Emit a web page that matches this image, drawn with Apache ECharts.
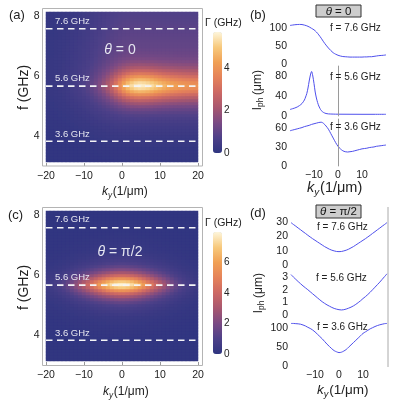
<!DOCTYPE html>
<html>
<head>
<meta charset="utf-8">
<script src="https://cdn.jsdelivr.net/npm/echarts@6/dist/echarts.min.js"></script>
<style>
html, body { margin: 0; padding: 0; background: #fff; }
#chart { width: 397px; height: 400px; }
</style>
</head>
<body>
<div id="chart"></div>
<script>
// ---- data ----
// heatmap cells: 38 ky columns over -20..20 (1/um), 50 f rows of 0.1 GHz
const kyCells = [];
for (let i = 0; i < 38; i++) kyCells.push(+(-20 + (i + 0.5) * 40 / 38).toFixed(2));
const fCells = [];
for (let j = 0; j < 50; j++) fCells.push(+(3.2 + 0.1 * j).toFixed(1));
const ridgeF = 5.7; // row of the bright band

// (a) theta = 0 : sharp band amplitude and broad glow along ky
const ridgeA = [0, 0, 0, 0, 0, 0.02, 0.04, 0.07, 0.1, 0.15,
  0.22, 0.32, 0.45, 0.62, 0.85, 1.15, 1.55, 2.05, 2.6,
  3.15, 3.6, 3.95, 4.15, 4.25, 4.2, 4.1, 3.95, 3.75, 3.55,
  3.35, 3.2, 3.05, 2.95, 2.85, 2.78, 2.72, 2.67, 2.63];
const glowA = [0.15, 0.18, 0.21, 0.24, 0.28, 0.32, 0.37, 0.42, 0.48, 0.55,
  0.62, 0.7, 0.79, 0.88, 0.97, 1.05, 1.12, 1.18, 1.23,
  1.27, 1.29, 1.3, 1.3, 1.3, 1.3, 1.3, 1.3, 1.3, 1.3,
  1.3, 1.3, 1.3, 1.3, 1.3, 1.3, 1.3, 1.3, 1.3];
// relative fall-off across f, per 0.1 GHz away from the band
const narrowA = [1, 0.93, 0.8, 0.64, 0.48, 0.35, 0.24, 0.16, 0.1, 0.06, 0.035, 0.02, 0.01];
const glowUpA = [1, 0.99, 0.98, 0.97, 0.96, 0.94, 0.92, 0.9, 0.88, 0.86, 0.84, 0.82, 0.8,
  0.78, 0.76, 0.74, 0.72, 0.7, 0.68, 0.66, 0.64, 0.62, 0.6, 0.58, 0.56, 0.55];
const glowDownA = [1, 0.97, 0.93, 0.88, 0.83, 0.77, 0.71, 0.65, 0.59, 0.53, 0.47, 0.42, 0.37,
  0.32, 0.28, 0.24, 0.2, 0.17, 0.14, 0.12, 0.1, 0.08, 0.07, 0.06, 0.05, 0.04];

// (c) theta = pi/2
const ridgeC = [0.23, 0.32, 0.44, 0.6, 0.82, 1.1, 1.45, 1.85, 2.3, 2.75,
  3.25, 3.8, 4.35, 4.9, 5.45, 5.95, 6.35, 6.65, 6.8,
  6.8, 6.65, 6.35, 5.95, 5.45, 4.9, 4.35, 3.8, 3.25, 2.75,
  2.3, 1.85, 1.45, 1.1, 0.82, 0.6, 0.44, 0.32, 0.23];
const glowC = [0.22, 0.26, 0.3, 0.34, 0.39, 0.44, 0.49, 0.55, 0.61, 0.67,
  0.73, 0.79, 0.85, 0.91, 0.96, 1.01, 1.05, 1.08, 1.1,
  1.1, 1.08, 1.05, 1.01, 0.96, 0.91, 0.85, 0.79, 0.73, 0.67,
  0.61, 0.55, 0.49, 0.44, 0.39, 0.34, 0.3, 0.26, 0.22];
const narrowC = [1, 0.87, 0.66, 0.46, 0.3, 0.19, 0.11, 0.06, 0.035, 0.02, 0.01];
const glowProfC = [1, 0.97, 0.92, 0.86, 0.79, 0.71, 0.63, 0.55, 0.48, 0.41, 0.35, 0.29, 0.24,
  0.2, 0.16, 0.13, 0.1, 0.08, 0.06, 0.05, 0.04, 0.03, 0.02, 0.02, 0.01, 0.01];

// dashed frequency cuts (GHz, as drawn)
const cutLevels = [7.59, 5.68, 3.84];
const cutNames = ['7.6 GHz', '5.6 GHz', '3.6 GHz'];

// (b), (d) l_ph (um) vs ky
const kyLine = [];
for (let k = -20; k <= 20; k++) kyLine.push(k);
const lphB76 = [106, 107, 108, 108.5, 109, 108.5, 107, 105, 102, 98, 94, 88, 80, 71, 61, 52, 44, 37, 31, 27,
  24, 22, 20.5, 20, 19.5, 19, 19, 19, 19, 19, 19, 19.5, 19.5, 20, 20, 21, 22, 23, 23.5, 24, 25];
const kyB56 = [-20, -19, -18, -17, -16, -15, -14, -13.5, -13, -12.5, -12, -11.5, -11, -10.5, -10,
  -9.5, -9, -8.5, -8, -7.5, -7, -6, -5, -4, -2, 0, 5, 10, 15, 20];
const lphB56 = [13, 14.5, 16, 18, 21, 25, 32, 38, 45, 56, 70, 82, 89, 80, 65,
  48, 36, 27, 20, 15, 11, 7, 5, 4.2, 3.8, 3.6, 3.5, 3.4, 3.4, 3.4];
const lphB36 = [55.5, 56.5, 57.5, 58.5, 59.5, 60.5, 62, 63, 64, 65.5, 66.5, 67.5, 68.5, 69, 67, 63, 58, 51, 44, 37,
  31, 27, 24, 22.5, 22, 22.5, 23, 24, 25, 26, 27, 27.5, 28, 29, 29.5, 30, 31, 31.5, 32, 32.5, 33];
const lphD76 = [29.5, 28.2, 27, 25.7, 24.5, 23.2, 22, 20.7, 19.5, 18.3, 17.2, 16.1, 15, 13.9, 12.8, 11.9, 11, 10.3, 9.8, 9.4,
  9.3, 9.4, 9.8, 10.3, 11, 11.9, 12.8, 13.9, 15, 16.1, 17.2, 18.3, 19.5, 20.7, 22, 23.2, 24.5, 25.7, 27, 28.2, 29.5];
const lphD56 = [3.2, 3.0, 2.82, 2.64, 2.47, 2.3, 2.15, 2.0, 1.84, 1.68, 1.52, 1.36, 1.2, 1.05, 0.92, 0.8, 0.7, 0.6, 0.52, 0.46,
  0.42, 0.4, 0.42, 0.47, 0.54, 0.62, 0.72, 0.84, 0.98, 1.13, 1.3, 1.45, 1.62, 1.8, 2.0, 2.2, 2.4, 2.6, 2.82, 3.04, 3.26];
const lphD36 = [111, 111, 110.5, 110, 109, 107, 104.5, 101, 98, 94, 89, 83, 77, 71, 64, 57, 51, 45, 40, 37,
  35, 36, 39, 43, 49, 55, 61, 67, 73, 79, 85, 89, 93, 97, 100, 103, 105.5, 107.5, 109, 110.5, 111];

// ---- build ----
const ridgeRow = fCells.indexOf(ridgeF);
function buildHeat(ridge, glow, narrow, up, down, base) {
  const out = [];
  kyCells.forEach(function (k, i) {
    fCells.forEach(function (f, j) {
      const d = j - ridgeRow;
      const o = Math.abs(d);
      const prof = d >= 0 ? up : down;
      const n = o < narrow.length ? narrow[o] : 0;
      const g = o < prof.length ? prof[o] : 0;
      out.push([i, j, base + ridge[i] * n + glow[i] * g]);
    });
  });
  return out;
}
const heatA = buildHeat(ridgeA, glowA, narrowA, glowUpA, glowDownA, 0.05);
const heatC = buildHeat(ridgeC, glowC, narrowC, glowProfC, glowProfC, 0.05);
const pairs = (xs, ys) => xs.map((x, i) => [x, ys[i]]);

const FONT = '"Liberation Sans", Arial, sans-serif';
const TXT = '#222';
const cmap = ['#2f3580', '#4d4088', '#7a4a84', '#a8576f', '#cc6864', '#e5825a', '#f0a055', '#f7c97c', '#fdf6dc'];
const minus = v => String(v).replace('-', '\u2212');
const lineBlue = '#4f50ec';

// grids: 0 heatA, 1 valA, 2 heatC, 3 valC, 4-6 b, 7-9 d, 10-11 colorbars
const grids = [
  { left: 46, top: 12, width: 152, height: 150 },
  { left: 46, top: 12, width: 152, height: 150 },
  { left: 46, top: 211, width: 152, height: 150 },
  { left: 46, top: 211, width: 152, height: 150 },
  { left: 290, top: 24, width: 96, height: 40 },
  { left: 290, top: 66, width: 96, height: 50 },
  { left: 290, top: 119, width: 96, height: 47 },
  { left: 291, top: 219, width: 96, height: 46 },
  { left: 291, top: 272, width: 96, height: 43 },
  { left: 291, top: 320, width: 96, height: 46 },
  { left: 213, top: 32, width: 9, height: 121 },
  { left: 213, top: 232, width: 9, height: 122 }
].map(g => Object.assign({ containLabel: false }, g));

const lbl = { fontFamily: FONT, fontSize: 10, color: TXT };
function heatX(gi) { return { type: 'category', gridIndex: gi, data: kyCells, show: false }; }
function heatY(gi) { return { type: 'category', gridIndex: gi, data: fCells, show: false }; }
function valX(gi) {
  return {
    type: 'value', gridIndex: gi, min: -20, max: 20, interval: 10, offset: 4,
    axisLine: { show: false }, splitLine: { show: false },
    axisTick: { show: true, inside: true, length: 3, lineStyle: { color: '#999' } },
    axisLabel: Object.assign({ margin: 5, formatter: minus }, lbl, { fontSize: 10.5 })
  };
}
function valY(gi) {
  return {
    type: 'value', gridIndex: gi, min: 3.15, max: 8.15, offset: 3.3,
    axisLine: { show: false }, splitLine: { show: false },
    axisTick: { show: true, inside: true, length: 3, lineStyle: { color: '#999' }, customValues: [4, 6, 8] },
    axisLabel: Object.assign({ margin: 3, customValues: [4, 6, 8] }, lbl, { fontSize: 10.5 })
  };
}
function lineX(gi, labels) {
  return {
    type: 'value', gridIndex: gi, min: -20, max: 20, interval: 10,
    axisLine: { show: false }, splitLine: { show: false }, axisTick: { show: false },
    axisLabel: Object.assign({ show: labels, margin: 4, formatter: v => (Math.abs(v) === 20 ? '' : minus(v)) }, lbl, { fontSize: 10.5 })
  };
}
function lineY(gi, max, interval, showLine) {
  return {
    type: 'value', gridIndex: gi, min: 0, max: max, interval: interval,
    axisLine: { show: showLine, lineStyle: { color: '#aaa' } }, splitLine: { show: false },
    axisTick: { show: false },
    axisLabel: Object.assign({ margin: 3 }, lbl, { fontSize: 10.5 })
  };
}
function barY(gi, max) {
  return {
    type: 'value', gridIndex: gi, min: 0, max: max, interval: 2, position: 'right',
    axisLine: { show: false }, splitLine: { show: false }, axisTick: { show: false },
    axisLabel: Object.assign({ margin: 2, formatter: v => (v % 2 === 0 && v < 7 ? String(v) : '') }, lbl)
  };
}

const xAxes = [heatX(0), valX(1), heatX(2), valX(3),
  lineX(4, false), lineX(5, false), lineX(6, true),
  lineX(7, false), lineX(8, false), lineX(9, true),
  { type: 'value', gridIndex: 10, show: false }, { type: 'value', gridIndex: 11, show: false }];
const yAxes = [heatY(0), valY(1), heatY(2), valY(3),
  lineY(4, 110, 50, false), lineY(5, 100, 40, true), lineY(6, 74, 30, true),
  lineY(7, 32, 10, false), lineY(8, 3.4, 1, false), lineY(9, 120, 50, false),
  barY(10, 5.7), barY(11, 8)];

const series = [
  { type: 'heatmap', xAxisIndex: 0, yAxisIndex: 0, data: heatA, progressive: 0, silent: true },
  { type: 'heatmap', xAxisIndex: 2, yAxisIndex: 2, data: heatC, progressive: 0, silent: true }
];
[1, 3].forEach(function (ai) {
  cutLevels.forEach(function (f) {
    series.push({
      type: 'line', xAxisIndex: ai, yAxisIndex: ai, data: [[-20, f], [20, f]],
      symbol: 'none', silent: true, z: 5,
      lineStyle: { color: '#f4f4f6', width: 1.6, type: [6.5, 4.5] }
    });
  });
});
const zeroMark = { symbol: 'none', silent: true, label: { show: false }, lineStyle: { color: '#9a9a9a', type: 'solid', width: 1 }, data: [{ xAxis: 0 }] };
function curve(ai, data, extra) {
  return Object.assign({
    type: 'line', xAxisIndex: ai, yAxisIndex: ai, data: data, symbol: 'none', smooth: 0.3,
    silent: true, lineStyle: { color: lineBlue, width: 1 }
  }, extra || {});
}
series.push(curve(4, pairs(kyLine, lphB76)));
series.push(curve(5, pairs(kyB56, lphB56), { markLine: zeroMark }));
series.push(curve(6, pairs(kyLine, lphB36), { markLine: zeroMark }));
series.push(curve(7, pairs(kyLine, lphD76)));
series.push(curve(8, pairs(kyLine, lphD56)));
series.push(curve(9, pairs(kyLine, lphD36)));

// ---- text & frames ----
const ZT = 50;
function t(x, y, s, size, opt) {
  opt = opt || {};
  return {
    type: 'text', x: x, y: y, silent: true, z: ZT,
    style: Object.assign({
      text: s, fontFamily: FONT, fontSize: size, fill: opt.fill || TXT,
      textAlign: opt.align || 'left', textVerticalAlign: 'middle'
    }, opt.style || {})
  };
}
const it = { fontStyle: 'italic' };
function kyTitle(x, y, size) {
  return {
    type: 'group', x: x, y: y, z: ZT, children: [
      t(0, 0, 'k', size, { style: it }),
      t(size * 0.5, size * 0.3, 'y', size * 0.68, { style: it }),
      t(size * 0.9, 0, '(1/\u03bcm)', size)
    ]
  };
}
function lphTitle(x, y) {
  return {
    type: 'group', x: x, y: y, rotation: Math.PI / 2, z: ZT, children: [
      t(0, 0, 'l', 12),
      t(3, 3, 'ph', 8.5),
      t(15, 0, '(\u03bcm)', 12)
    ]
  };
}
function frame(x, y, w, h) {
  return { type: 'rect', silent: true, z: ZT, shape: { x: x, y: y, width: w, height: h }, style: { fill: 'none', stroke: '#b4b4b4', lineWidth: 1 } };
}
function richText(x, y, s, size, fill, align) {
  return {
    type: 'text', x: x, y: y, silent: true, z: ZT,
    style: { text: s, fontFamily: FONT, fontSize: size, fill: fill, textAlign: align, textVerticalAlign: 'middle', rich: { i: { fontStyle: 'italic', fontFamily: FONT, fontSize: size, fill: fill } } }
  };
}
function thetaBox(x, y, w, h, label) {
  return {
    type: 'group', x: x, y: y, z: ZT, children: [
      { type: 'rect', silent: true, z: ZT, shape: { x: 0, y: 0, width: w, height: h }, style: { fill: '#cdcdcd', stroke: '#333', lineWidth: 1 } },
      richText(w / 2, h / 2 + 0.5, label, 11.5, '#111', 'center')
    ]
  };
}
const white = '#e6e6f0';
const graphics = [
  frame(42.5, 8.5, 160, 157.5),
  frame(42.5, 207.5, 160, 158),
  { type: 'line', silent: true, z: ZT, shape: { x1: 388, y1: 207, x2: 388, y2: 367 }, style: { stroke: '#aaa', lineWidth: 1 } },
  t(9, 15, '(a)', 13), t(250, 15, '(b)', 13), t(8, 215, '(c)', 13), t(250, 213, '(d)', 13),
  { type: 'group', x: 24, y: 110, rotation: Math.PI / 2, z: ZT, children: [t(0, 0, 'f (GHz)', 14)] },
  { type: 'group', x: 24, y: 310, rotation: Math.PI / 2, z: ZT, children: [t(0, 0, 'f (GHz)', 14)] },
  kyTitle(102, 192, 12), kyTitle(103, 392, 12), kyTitle(307, 188, 14.5), kyTitle(317, 390, 13.5),
  lphTitle(258, 110), lphTitle(259, 313),
  t(205, 23, '\u0393 (GHz)', 10.5), t(205, 223, '\u0393 (GHz)', 10.5),
  t(55, 21, cutNames[0], 9.5, { fill: white }), t(55, 78, cutNames[1], 9.5, { fill: white }), t(55, 134, cutNames[2], 9.5, { fill: white }),
  t(55, 219, cutNames[0], 9.5, { fill: white }), t(55, 277, cutNames[1], 9.5, { fill: white }), t(55, 333, cutNames[2], 9.5, { fill: white }),
  richText(120, 50, '{i|\u03b8} = 0', 14, white, 'center'),
  richText(120, 252, '{i|\u03b8} = \u03c0/2', 14, white, 'center'),
  thetaBox(316, 5, 45, 12, '{i|\u03b8} = 0'),
  thetaBox(316, 205, 45, 13, '{i|\u03b8} = \u03c0/2'),
  t(330, 28, 'f = 7.6 GHz', 10), t(330, 77, 'f = 5.6 GHz', 10), t(330, 127, 'f = 3.6 GHz', 10),
  t(317, 227, 'f = 7.6 GHz', 10), t(316, 278, 'f = 5.6 GHz', 10), t(317, 327, 'f = 3.6 GHz', 10)
];

const chart = echarts.init(document.getElementById('chart'), null, { renderer: 'canvas' });
chart.setOption({
  animation: false,
  backgroundColor: '#fff',
  grid: grids,
  xAxis: xAxes,
  yAxis: yAxes,
  visualMap: [
    { type: 'continuous', seriesIndex: 0, min: 0, max: 5.7, calculable: false, left: 213, top: 32, itemWidth: 9, itemHeight: 121, padding: 0, text: null, inRange: { color: cmap } },
    { type: 'continuous', seriesIndex: 1, min: 0, max: 8, calculable: false, left: 213, top: 232, itemWidth: 9, itemHeight: 122, padding: 0, text: null, inRange: { color: cmap } }
  ],
  series: series,
  graphic: graphics
});
</script>
</body>
</html>
